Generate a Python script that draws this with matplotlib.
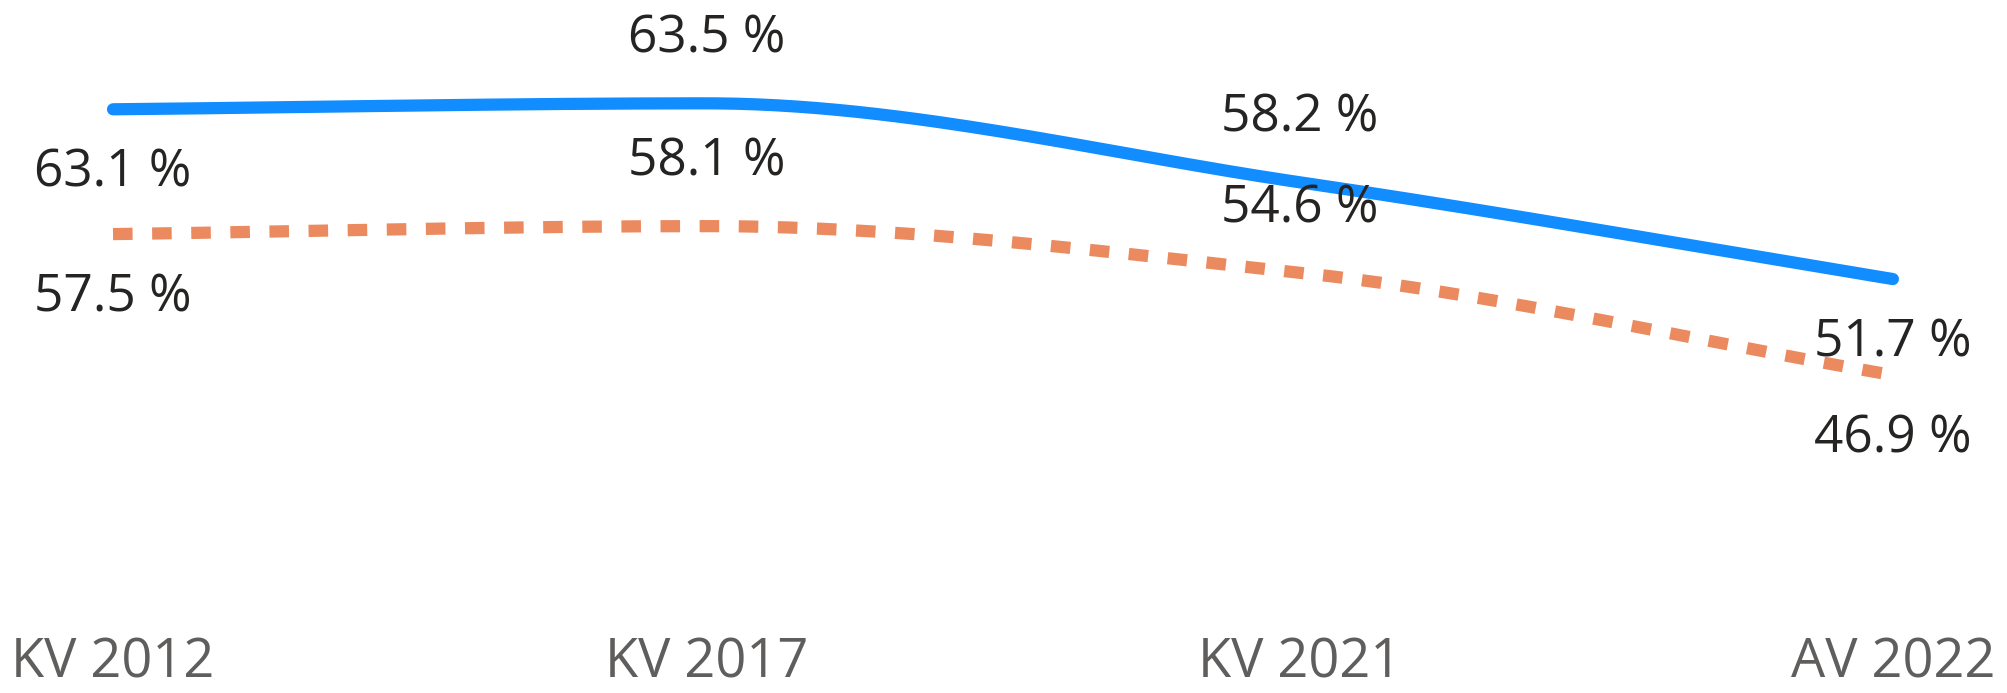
import numpy as np
import matplotlib.pyplot as plt
from matplotlib import transforms

# data
categories = ['KV 2012', 'KV 2017', 'KV 2021', 'AV 2022']
series_a = [63.1, 63.5, 58.2, 51.7]
series_b = [57.5, 58.1, 54.6, 46.9]
# label placement per point: 1 = above, -1 = below
side_a = [-1, 1, 1, -1]
side_b = [-1, 1, 1, -1]

plt.rcParams['font.family'] = ['Open Sans', 'DejaVu Sans']


def monotone(x, y, n=60):
    # Fritsch-Carlson monotone cubic, just for smoothing the drawn line
    x = np.asarray(x, float)
    y = np.asarray(y, float)
    h = np.diff(x)
    d = np.diff(y) / h
    m = np.zeros_like(y)
    m[0], m[-1] = d[0], d[-1]
    for i in range(1, len(y) - 1):
        if d[i - 1] * d[i] <= 0:
            m[i] = 0
        else:
            m[i] = 3 * (h[i - 1] + h[i]) / ((2 * h[i] + h[i - 1]) / d[i - 1] + (h[i] + 2 * h[i - 1]) / d[i])
    xs, ys = [], []
    for i in range(len(x) - 1):
        t = np.linspace(0, 1, n)
        h00 = 2 * t**3 - 3 * t**2 + 1
        h10 = t**3 - 2 * t**2 + t
        h01 = -2 * t**3 + 3 * t**2
        h11 = t**3 - t**2
        xs.append(x[i] + t * h[i])
        ys.append(h00 * y[i] + h10 * h[i] * m[i] + h01 * y[i + 1] + h11 * h[i] * m[i + 1])
    return np.concatenate(xs), np.concatenate(ys)


fig = plt.figure(figsize=(20.08, 6.93), dpi=100)
ax = fig.add_axes([0, 0, 1, 1])
ax2 = ax.twinx()

x = np.arange(len(categories))
blue = '#118DFF'
orange = '#EB8A5F'

xs, ys = monotone(x, series_a)
ax.plot(xs, ys, color=blue, lw=8.8, solid_capstyle='round')
xs, ys = monotone(x, series_b)
ax2.plot(xs, ys, color=orange, lw=8.8, dash_capstyle='butt', dashes=(1.6, 1.6))

ax.set_xlim(-0.1905, 3.194)
ax.set_ylim(23.9, 70.44)
ax2.set_ylim(23.0, 75.1)

for a, vals, side in [(ax, series_a, side_a), (ax2, series_b, side_b)]:
    for i, v in enumerate(vals):
        a.annotate(f'{v} %', (x[i], v), xytext=(0, 46 * side[i]), textcoords='offset points',
                   ha='center', va='center', fontsize=37, color='#252423')

trans = transforms.blended_transform_factory(ax.transData, ax.transAxes)
for i, c in enumerate(categories):
    ax.text(x[i], 0.044, c, transform=trans, ha='center', va='center',
            fontsize=39, color='#605E5C')

for a in (ax, ax2):
    a.axis('off')

fig.savefig('out.png', dpi=100)
